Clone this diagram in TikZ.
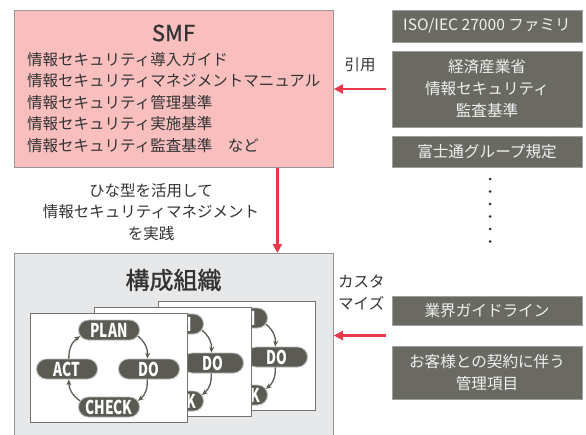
\documentclass[tikz,border=0pt]{standalone}
\usepackage{fontspec}
\setmainfont{Noto Sans CJK JP}
\newfontfamily\medfont[FakeBold=1.2]{Noto Sans CJK JP}
\usetikzlibrary{arrows.meta,shapes.misc}
\definecolor{smfpink}{RGB}{249,191,191}
\definecolor{boxgray}{RGB}{231,232,234}
\definecolor{darkbox}{RGB}{107,106,98}
\definecolor{pillc}{RGB}{92,91,83}
\definecolor{redarr}{RGB}{232,56,76}
\definecolor{txt}{RGB}{51,51,51}
\definecolor{edge}{RGB}{150,150,150}
\tikzset{
  bigbox/.style={draw=edge, line width=0.8pt, inner sep=0pt, anchor=north west},
  darkbox/.style={draw=gray!75, line width=0.8pt, fill=darkbox, text=white!94!black,
     font=\fontsize{15.6}{22}\selectfont, align=center, minimum width=190pt, inner sep=0pt},
  plain/.style={text=txt, font=\fontsize{15.5}{21.5}\selectfont, inner sep=0pt},
  redarrow/.style={draw=redarr, line width=2.6pt, -{Triangle[length=9pt,width=9pt]}},
  card/.style={draw=black!55, line width=0.8pt, fill=white, minimum width=157pt, minimum height=109pt, inner sep=0pt},
  pill/.style={rounded rectangle, fill=pillc, draw=gray!55, line width=0.8pt, text=white,
     minimum width=61pt, minimum height=20pt, inner sep=0pt,
     font=\fontsize{19}{19}\selectfont\bfseries},
  cyc/.style={draw=pillc, line width=1.3pt, -{Stealth[length=6pt,width=5pt]}},
  dot/.style={circle, fill=txt, inner sep=0pt, minimum size=3pt}
}
\newcommand\pdcacard[3]{%
  \begin{scope}[shift={(#1,#2)}]
    \node[card] (#3card) at (78.5,54.5) {};
    \node[pill] (#3p) at (79,17) {\scalebox{0.72}[1]{PLAN}};
    \node[pill] (#3d) at (119,56) {\scalebox{0.72}[1]{DO}};
    \node[pill] (#3a) at (37,56) {\scalebox{0.72}[1]{ACT}};
    \node[pill] (#3c) at (79,94) {\scalebox{0.72}[1]{CHECK}};
    \draw[cyc] (#3p.-12) to[bend left=28] (#3d.100);
    \draw[cyc] (#3d.-100) to[bend left=28] (#3c.12);
    \draw[cyc] (#3c.168) to[bend left=28] (#3a.-80);
    \draw[cyc] (#3a.80) to[bend left=28] (#3p.192);
  \end{scope}}
\begin{document}
\begin{tikzpicture}[x=1pt,y=-1pt]
\useasboundingbox (0,0) rectangle (586,434);
% SMF box
\node[bigbox, fill=smfpink, minimum width=319pt, minimum height=157pt] (smf) at (14,10) {};
\node[text=txt, font=\fontsize{22}{22}\selectfont\medfont] (smft) at (173.5,33) {SMF};
\node[plain, anchor=north west, align=left] (smfl) at (27,52)
  {情報セキュリティ導入ガイド\\
   情報セキュリティマネジメントマニュアル\\
   情報セキュリティ管理基準\\
   情報セキュリティ実施基準\\
   情報セキュリティ監査基準\hspace{1em}など};
% right boxes
\node[darkbox, minimum height=32pt] (iso) at (487,26) {ISO/IEC 27000 ファミリ};
\node[darkbox, minimum height=76pt] (keizai) at (487,89) {経済産業省\\情報セキュリティ\\監査基準};
\node[darkbox, minimum height=31pt] (fujitsu) at (487,151.5) {富士通グループ規定};
\foreach \i/\yy in {1/179,2/191.5,3/204,4/216.5,5/229,6/241.5}
  \node[dot] (dot\i) at (490,\yy) {};
\node[darkbox, minimum height=29pt] (gyokai) at (487,310.5) {業界ガイドライン};
\node[darkbox, minimum height=53pt] (okyaku) at (487,372.5) {お客様との契約に伴う\\管理項目};
% labels
\node[plain] (inyo) at (360,65) {引用};
\node[plain, align=left, anchor=north west] (custom) at (338,275) {カスタ\\マイズ};
\node[plain, align=center] (hina) at (151,212) {ひな型を活用して\\情報セキュリティマネジメント\\を実践};
% organisation box
\node[bigbox, fill=boxgray, minimum width=319pt, minimum height=192pt] (org) at (14,253) {};
\node[text=txt, font=\fontsize{24}{24}\selectfont\medfont] (orgt) at (173.5,280) {構成組織};
\pdcacard{158}{301}{b}
\pdcacard{94}{307}{m}
\pdcacard{30}{313}{f}
% arrows
\draw[redarrow] ([xshift=-6pt]keizai.west) -- (keizai.west -| smf.east);
\draw[redarrow] ([xshift=103.5pt]smf.south) -- ([xshift=103.5pt]org.north);
\coordinate (a3) at (386,335.5);
\draw[redarrow] (a3) -- (a3 -| org.east);
\end{tikzpicture}
\end{document}
